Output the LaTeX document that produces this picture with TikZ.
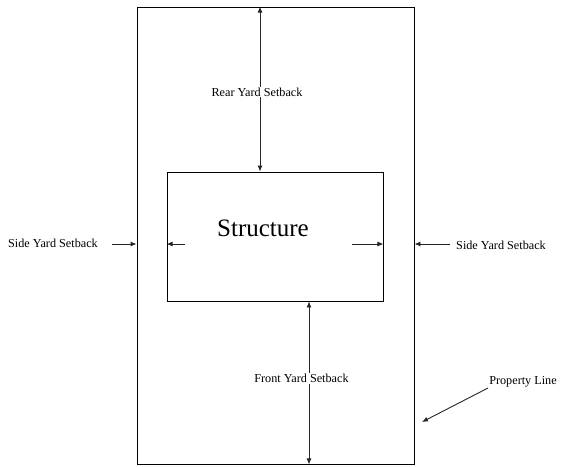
\documentclass[tikz,border=0pt]{standalone}
\usepackage{fontspec}
\setmainfont{Liberation Serif}
\usetikzlibrary{arrows.meta}
\begin{document}
\begin{tikzpicture}[x=1pt,y=-1pt,
  line/.style={draw=black!85, line width=0.9pt},
  arr/.style={line, -{Latex[length=6pt,width=5pt]}},
  lbl/.style={font=\fontsize{12.2}{14}\selectfont, inner sep=1pt, fill=white},
  box/.style={draw=black, line width=0.9pt, inner sep=0pt, fill=none}]
\useasboundingbox (0,0) rectangle (561,466);
\fill[white] (0,0) rectangle (561,466);
% property and structure
\node[box, minimum width=277pt, minimum height=457pt] (prop) at (275.5,235.5) {};
\node[box, minimum width=216pt, minimum height=129pt] (struct) at (275,236.5) {};
\node[font=\fontsize{25}{28}\selectfont] (stext) at (263,228) {Structure};
% labels
\node[lbl] (rear) at (257,92) {Rear Yard Setback};
\node[lbl] (front) at (301.5,378) {Front Yard Setback};
\node[lbl] (sidel) at (53,243) {Side Yard Setback};
\node[lbl] (sider) at (501,245) {Side Yard Setback};
\node[lbl] (plabel) at (523,382) {Property Line};
% helper coordinates
\coordinate (rx) at (260,0);
\coordinate (fx) at (309,0);
\coordinate (sl1) at (112,244);
\coordinate (sl2) at (185,244);
\coordinate (sr1) at (450,244);
\coordinate (sr2) at (352,244);
\coordinate (pl1) at (488,388);
\coordinate (pl2) at (422,422);
% rear setback
\draw[arr] (rear.north -| rx) -- (rx |- prop.north);
\draw[arr] (rear.south -| rx) -- (rx |- struct.north);
% front setback
\draw[arr] (front.north -| fx) -- (fx |- struct.south);
\draw[arr] (front.south -| fx) -- (fx |- prop.south);
% side setbacks
\draw[arr] (sl1) -- (sl1 -| prop.west);
\draw[arr] (sl2) -- (sl2 -| struct.west);
\draw[arr] (sr1) -- (sr1 -| prop.east);
\draw[arr] (sr2) -- (sr2 -| struct.east);
% property line pointer
\draw[arr] (pl1) -- (pl2);
\end{tikzpicture}
\end{document}
